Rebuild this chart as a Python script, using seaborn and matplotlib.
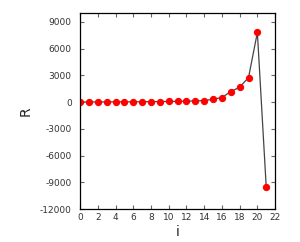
import matplotlib
matplotlib.use("Agg")
import matplotlib.pyplot as plt
import seaborn as sns
import pandas as pd

i_vals = list(range(22))
r_vals = [10, 15, 20, 25, 30, 35, 40, 45, 55, 65, 75, 90, 110, 140, 170, 330, 520, 1190, 1680, 2760, 7820, -9550]

df = pd.DataFrame({"i": i_vals, "R": r_vals})

sns.set_style("ticks")
plt.rcParams["axes.unicode_minus"] = False
plt.rcParams["font.family"] = ["DejaVu Sans"]

fig = plt.figure(figsize=(3.0, 2.42), dpi=100)
ax = fig.add_axes([0.267, 0.136, 0.65, 0.81])

sns.lineplot(data=df, x="i", y="R", ax=ax, color="#444444", linewidth=0.9,
             marker="o", markersize=4.5, markerfacecolor="red", markeredgecolor="red")

ax.set_xlim(0, 22)
ax.set_ylim(-12000, 10000)
ax.set_xticks(range(0, 23, 2))
ax.set_yticks(range(-12000, 9001, 3000))
ax.tick_params(direction="in", length=3, labelsize=6.5, colors="#666666",
               top=True, right=True, pad=3)
ax.tick_params(axis="y", pad=6)
ax.tick_params(labelcolor="#333333")
for s in ax.spines.values():
    s.set_color("black")
    s.set_linewidth(0.9)
ax.set_xlabel("i", fontsize=10, labelpad=2)
ax.set_ylabel("R", fontsize=10, labelpad=5)

plt.savefig("out.png", dpi=100)
plt.close()
